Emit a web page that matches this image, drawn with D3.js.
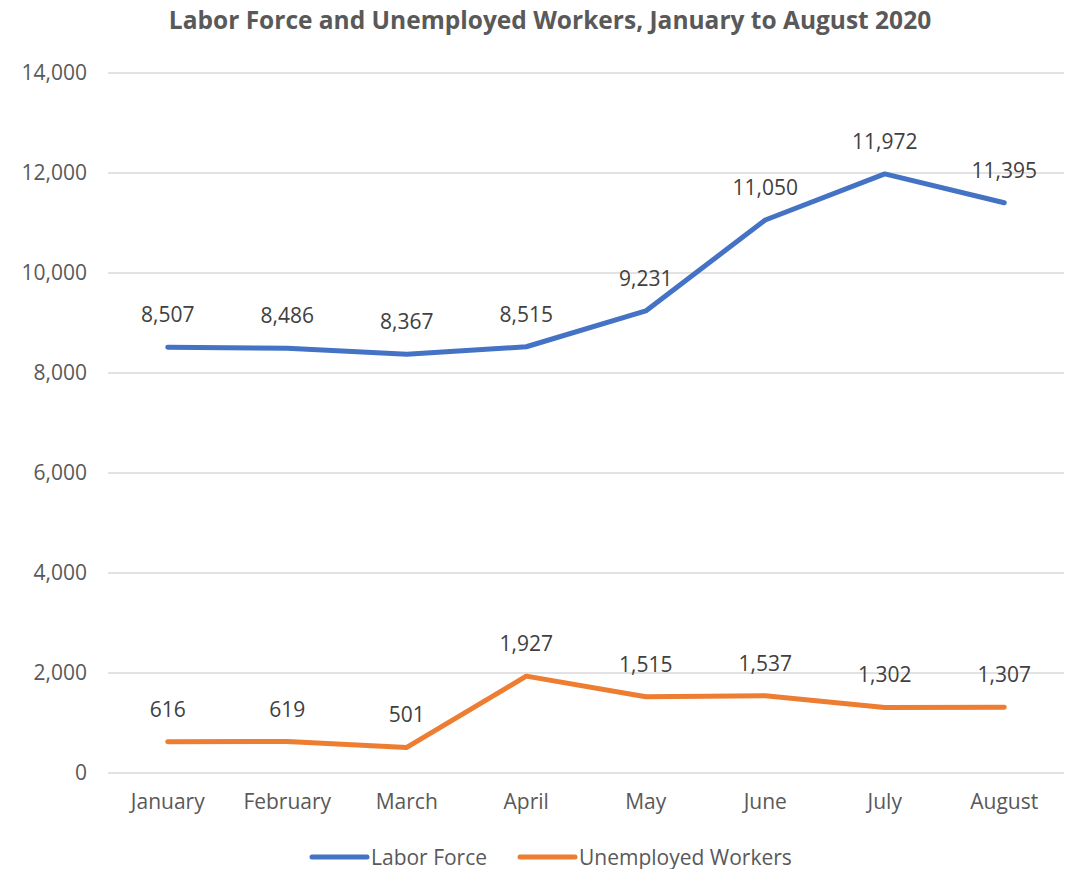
<!DOCTYPE html>
<html><head><meta charset="utf-8">
<script src="https://cdn.jsdelivr.net/npm/d3@7"></script>
<style>body{margin:0;background:#fff;} svg{display:block;font-family:"Open Sans",sans-serif;}</style>
</head><body>
<script>
const months = ["January","February","March","April","May","June","July","August"];
const laborForce = [8507,8486,8367,8515,9231,11050,11972,11395];
const unemployed = [616,619,501,1927,1515,1537,1302,1307];
const yTicks = [0,2000,4000,6000,8000,10000,12000,14000];
const seriesNames = ["Labor Force","Unemployed Workers"];
const seriesColors = ["#4472C4","#ED7D31"];

const W=1071,H=869;
const svg=d3.select("body").append("svg").attr("width",W).attr("height",H);
const x=d3.scaleBand().domain(months).range([108,1064]);
const y=d3.scaleLinear().domain([0,14000]).range([772.5,72.5]);
const fmt=d3.format(",");
const txt="#595959";

svg.append("text").attr("x",550).attr("y",29).attr("text-anchor","middle")
  .attr("font-size",24.5).attr("font-weight","bold").attr("fill",txt)
  .text("Labor Force and Unemployed Workers, January to August 2020");

const ya=svg.append("g").attr("transform","translate(108,0)")
  .call(d3.axisLeft(y).tickValues(yTicks).tickSize(-956).tickFormat(fmt).tickPadding(21));
ya.select(".domain").remove();
ya.selectAll("line").attr("stroke","#D9D9D9").attr("stroke-width",1.3);
ya.selectAll("text").attr("font-size",21).attr("fill",txt).attr("font-family","Open Sans");

const xa=svg.append("g").attr("transform","translate(0,772.5)")
  .call(d3.axisBottom(x).tickSize(0).tickPadding(22));
xa.select(".domain").remove();
xa.selectAll("text").attr("font-size",21).attr("fill",txt).attr("font-family","Open Sans");

const cx=d=>x(d)+x.bandwidth()/2;
[laborForce,unemployed].forEach((vals,i)=>{
  const line=d3.line().x((v,j)=>cx(months[j])).y(v=>y(v));
  svg.append("path").attr("d",line(vals)).attr("fill","none")
    .attr("stroke",seriesColors[i]).attr("stroke-width",5).attr("stroke-linecap","round").attr("stroke-linejoin","round");
  svg.append("g").selectAll("text").data(vals).join("text")
    .attr("x",(v,j)=>cx(months[j])).attr("y",v=>y(v)-25)
    .attr("text-anchor","middle").attr("font-size",21).attr("fill","#404040")
    .text(fmt);
});

const lg=svg.append("g");
const lx=[312,520];
seriesNames.forEach((n,i)=>{
  lg.append("line").attr("x1",lx[i]).attr("x2",lx[i]+55).attr("y1",857).attr("y2",857)
    .attr("stroke",seriesColors[i]).attr("stroke-width",5).attr("stroke-linecap","round");
  lg.append("text").attr("x",lx[i]+59).attr("y",864.5).attr("font-size",21).attr("fill",txt).text(n);
});
</script>
</body></html>
